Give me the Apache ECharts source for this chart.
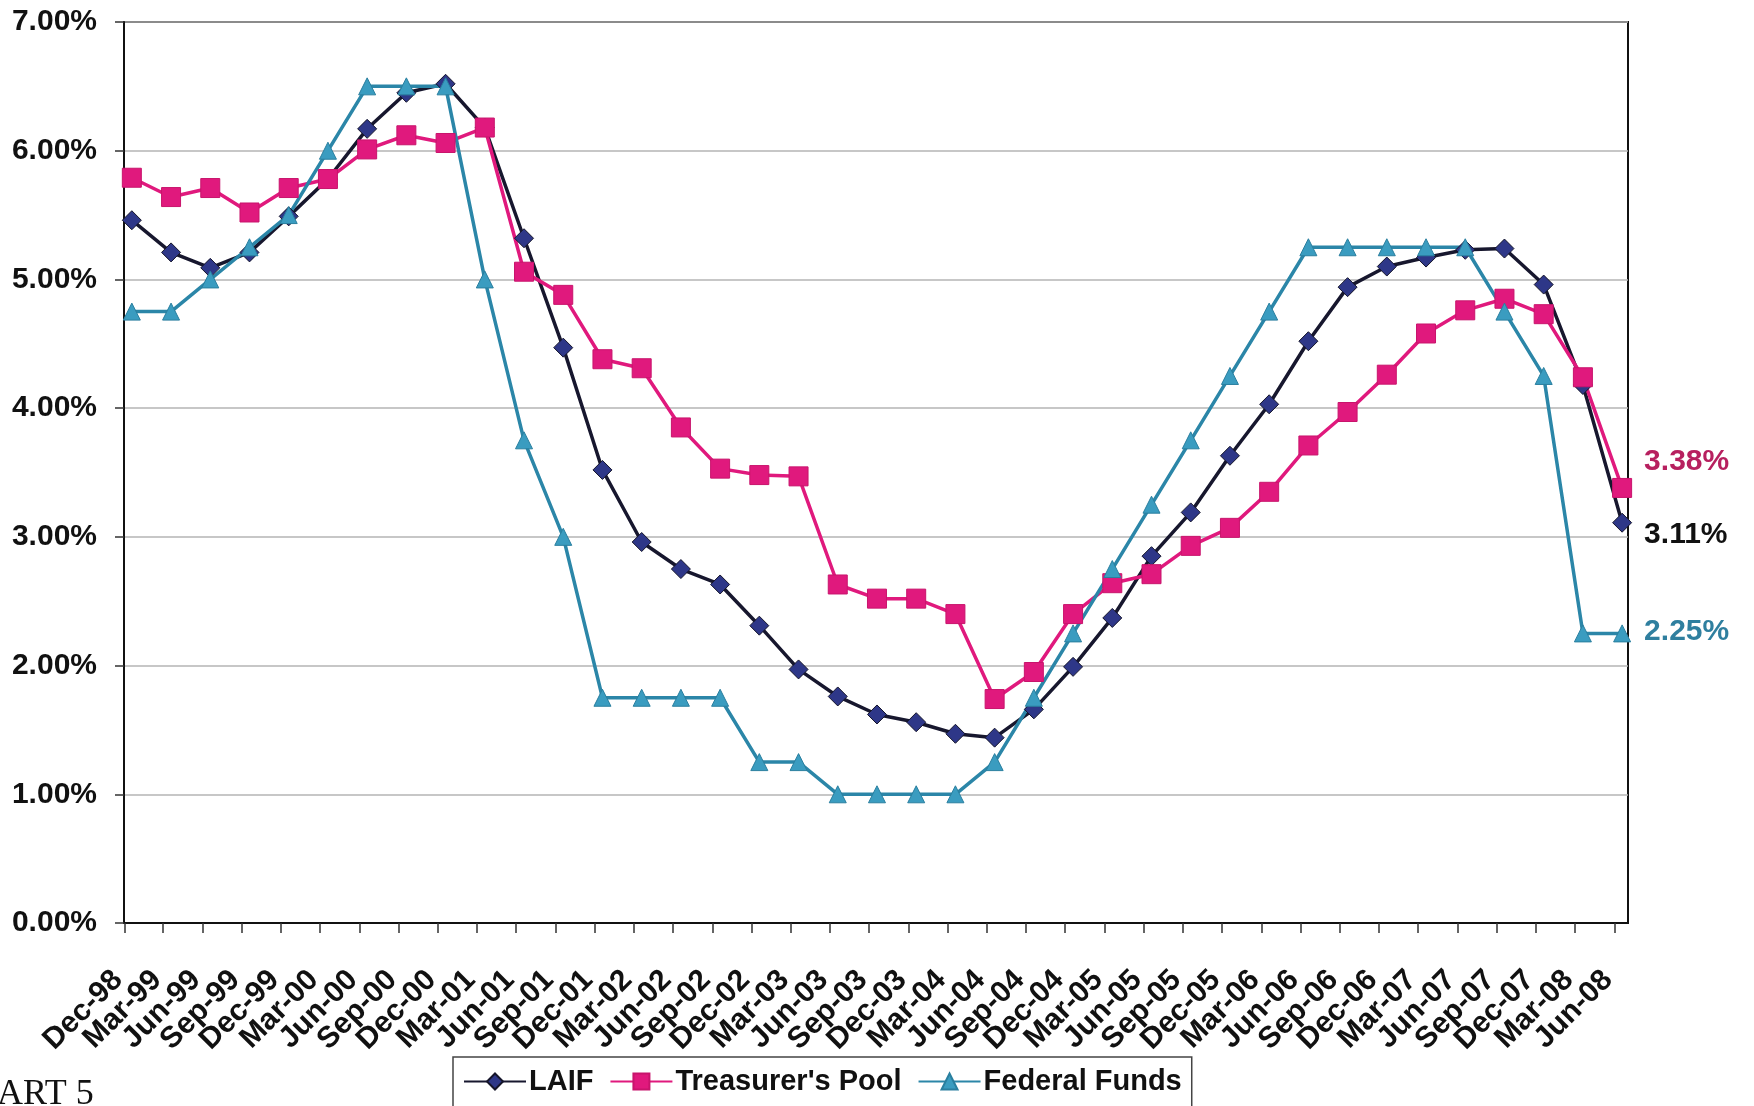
<!DOCTYPE html>
<html>
<head>
<meta charset="utf-8">
<script src="https://cdn.jsdelivr.net/npm/echarts@6/dist/echarts.min.js"></script>
<style>
  html, body { margin: 0; padding: 0; background: #fff; }
  #chart { width: 1754px; height: 1106px; }
</style>
</head>
<body>
<div id="chart"></div>
<script>
// quarterly dates, Dec-98 .. Jun-08
const categories = [
  'Dec-98', 'Mar-99', 'Jun-99', 'Sep-99', 'Dec-99', 'Mar-00', 'Jun-00', 'Sep-00', 'Dec-00',
  'Mar-01', 'Jun-01', 'Sep-01', 'Dec-01', 'Mar-02', 'Jun-02', 'Sep-02', 'Dec-02',
  'Mar-03', 'Jun-03', 'Sep-03', 'Dec-03', 'Mar-04', 'Jun-04', 'Sep-04', 'Dec-04',
  'Mar-05', 'Jun-05', 'Sep-05', 'Dec-05', 'Mar-06', 'Jun-06', 'Sep-06', 'Dec-06',
  'Mar-07', 'Jun-07', 'Sep-07', 'Dec-07', 'Mar-08', 'Jun-08'
];

// rates in percent
const laif = [
  5.46, 5.21, 5.09, 5.21, 5.49, 5.78, 6.17, 6.45, 6.52,
  6.18, 5.32, 4.47, 3.52, 2.96, 2.75, 2.63, 2.31,
  1.97, 1.76, 1.62, 1.56, 1.47, 1.44, 1.66, 1.99,
  2.37, 2.85, 3.19, 3.63, 4.03, 4.52, 4.94, 5.10,
  5.17, 5.23, 5.24, 4.96, 4.18, 3.11
];
const treasurersPool = [
  5.79, 5.64, 5.71, 5.52, 5.71, 5.78, 6.01, 6.12, 6.06,
  6.18, 5.06, 4.88, 4.38, 4.31, 3.85, 3.53, 3.48,
  3.47, 2.63, 2.52, 2.52, 2.40, 1.74, 1.95, 2.40,
  2.64, 2.71, 2.93, 3.07, 3.35, 3.71, 3.97, 4.26,
  4.58, 4.76, 4.85, 4.73, 4.24, 3.38
];
const federalFunds = [
  4.75, 4.75, 5.00, 5.25, 5.50, 6.00, 6.50, 6.50, 6.50,
  5.00, 3.75, 3.00, 1.75, 1.75, 1.75, 1.75, 1.25,
  1.25, 1.00, 1.00, 1.00, 1.00, 1.25, 1.75, 2.25,
  2.75, 3.25, 3.75, 4.25, 4.75, 5.25, 5.25, 5.25,
  5.25, 5.25, 4.75, 4.25, 2.25, 2.25
];
const yTicks = [0, 1, 2, 3, 4, 5, 6, 7];

const FONT = '"Liberation Sans", Arial, sans-serif';
const X_MIN = -0.2, X_MAX = 38.15;
// ticks sit a little left of each point, like the scanned excel chart
const tickVals = categories.map((c, i) => i - 0.2 + (i === 0 ? 0.01 : 0));
// echarts always drops the first/last label when showMin/MaxLabel is false,
// so pad both ends with an empty one
const labelVals = [X_MIN].concat(tickVals, [X_MAX]);

const chart = echarts.init(document.getElementById('chart'));

function lineSeries(name, values, symbol, size, lineColor, fill, border, labelColor, labelOffset) {
  return {
    name: name,
    type: 'line',
    data: values.map((v, i) => [i, v]),
    symbol: symbol,
    symbolSize: size,
    showAllSymbol: true,
    lineStyle: { color: lineColor, width: 3.5 },
    itemStyle: { color: fill, borderColor: border, borderWidth: 1 },
    endLabel: {
      show: true,
      distance: 0,
      offset: labelOffset,
      formatter: p => p.value[1].toFixed(2) + '%',
      color: labelColor,
      fontFamily: FONT,
      fontWeight: 'bold',
      fontSize: 30
    },
    emphasis: { disabled: true }
  };
}

chart.setOption({
  animation: false,
  backgroundColor: '#fff',
  grid: {
    left: 124,
    right: 126,
    top: 22,
    bottom: 183,
    show: true,
    borderColor: '#111',
    borderWidth: 2
  },
  graphic: [{
    type: 'text',
    left: -3,
    top: 1077,
    style: { text: 'ART 5', font: '36px "Liberation Serif", "Times New Roman", serif', fill: '#111' }
  }],
  legend: {
    left: 453,
    top: 1057,
    data: ['LAIF', "Treasurer's Pool", 'Federal Funds'],
    itemWidth: 62,
    itemHeight: 20,
    itemGap: 16,
    padding: [10, 10, 24, 10],
    borderColor: '#444',
    borderWidth: 1.5,
    textStyle: { fontFamily: FONT, fontWeight: 'bold', fontSize: 29, color: '#111', padding: [0, 0, 0, -2] }
  },
  xAxis: {
    type: 'value',
    min: X_MIN,
    max: X_MAX,
    splitLine: { show: false },
    axisLine: { show: true, onZero: false, lineStyle: { color: '#111', width: 2 } },
    axisTick: {
      show: true,
      customValues: [X_MIN].concat(tickVals, [X_MAX]),
      length: 10,
      lineStyle: { color: '#333', width: 1.5 }
    },
    axisLabel: {
      customValues: labelVals,
      showMinLabel: false,
      showMaxLabel: false,
      hideOverlap: false,
      rotate: 45,
      margin: 46,
      padding: [0, 9, 0, 0],
      formatter: v => (v <= X_MIN || v >= X_MAX) ? '' : categories[Math.round(v + 0.2)],
      fontFamily: FONT,
      fontWeight: 'bold',
      fontSize: 30,
      color: '#111'
    }
  },
  yAxis: {
    type: 'value',
    min: yTicks[0],
    max: yTicks[yTicks.length - 1],
    interval: 1,
    axisLine: { show: true, onZero: false, lineStyle: { color: '#111', width: 2 } },
    axisTick: { show: true, length: 9, lineStyle: { color: '#333', width: 1.5 } },
    splitLine: { show: true, lineStyle: { color: '#b4b4b4', width: 1.5 } },
    axisLabel: {
      margin: 27,
      formatter: v => v.toFixed(2) + '%',
      fontFamily: FONT,
      fontWeight: 'bold',
      fontSize: 30,
      color: '#111'
    }
  },
  series: [
    lineSeries('LAIF', laif, 'diamond', 19, '#17172e', '#2e3788', '#15152a', '#111', [22, 12]),
    lineSeries("Treasurer's Pool", treasurersPool, 'rect', 19, '#e0197d', '#e0197d', '#c8146c', '#b7205f', [22, -26]),
    lineSeries('Federal Funds', federalFunds, 'triangle', 17, '#2b86a8', '#3a9cc0', '#2a7f9f', '#2f7f9f', [22, -2])
  ]
});
</script>
</body>
</html>
